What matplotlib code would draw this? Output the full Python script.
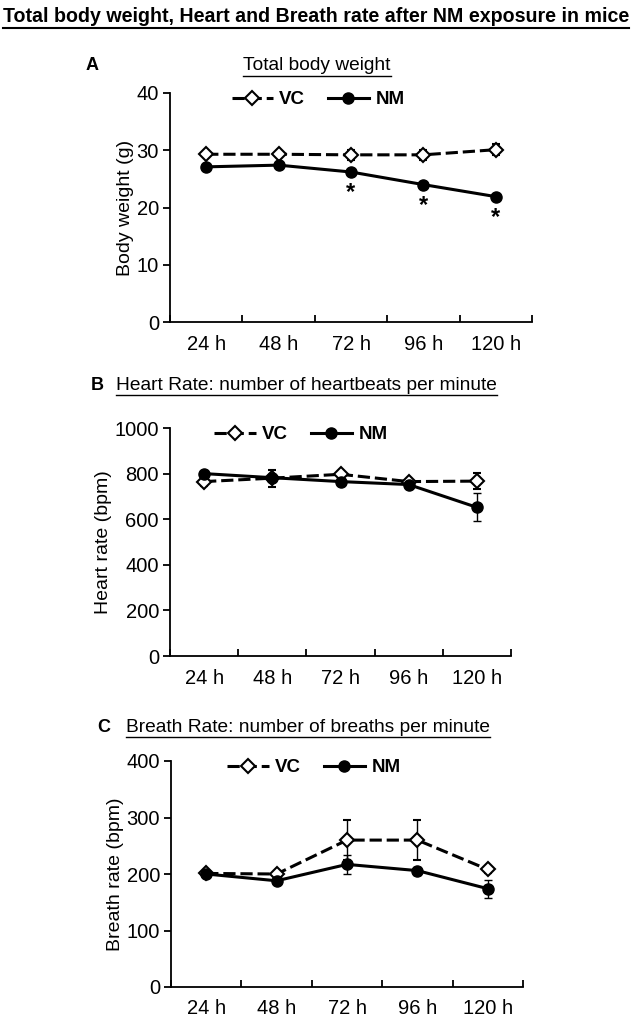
import matplotlib
matplotlib.use('Agg')
import matplotlib.pyplot as plt
import numpy as np
from matplotlib.lines import Line2D

plt.rcParams['font.family'] = ['Liberation Sans', 'DejaVu Sans']

times = ['24 h', '48 h', '72 h', '96 h', '120 h']

# A: body weight (g)
bw_vc = [29.3, 29.3, 29.2, 29.2, 30.1]
bw_vc_err = [0.5, 0.5, 0.9, 0.9, 1.0]
bw_nm = [27.1, 27.4, 26.2, 24.0, 21.9]
bw_nm_err = [0.3, 0.3, 0.4, 0.4, 0.4]
bw_star = [2, 3, 4]

# B: heart rate (bpm)
hr_vc = [765, 780, 797, 765, 767]
hr_vc_err = [20, 37, 12, 12, 36]
hr_nm = [800, 782, 765, 752, 652]
hr_nm_err = [10, 15, 10, 10, 62]

# C: breath rate (bpm)
br_vc = [201, 200, 260, 260, 208]
br_vc_err = [5, 5, 36, 36, 6]
br_nm = [200, 188, 217, 206, 174]
br_nm_err = [5, 5, 17, 7, 16]

W, H = 636, 1027
fig = plt.figure(figsize=(W / 100, H / 100), dpi=100)


def fx(px):
    return px / W


def fy(py):
    return 1 - py / H


def panel(rect, vc, vc_err, nm, nm_err, ymax, ystep, ylabel, leg_x):
    ax = fig.add_axes(rect)
    x = np.arange(len(times))
    ax.errorbar(x, vc, yerr=vc_err, color='black', lw=2.2, ls=(0, (4, 1.6)),
                marker='D', ms=7, mfc='white', mec='black', mew=1.5,
                elinewidth=1, capsize=3, capthick=1, label='VC', zorder=3)
    ax.errorbar(x, nm, yerr=nm_err, color='black', lw=2.2, ls='-',
                marker='o', ms=8, mfc='black', mec='black',
                elinewidth=1, capsize=3, capthick=1, label='NM', zorder=4)
    ax.set_xlim(-0.5, len(times) - 0.5)
    ax.set_ylim(0, ymax)
    ax.set_yticks(np.arange(0, ymax + 1, ystep))
    ax.set_xticks(np.arange(-0.5, len(times), 1))
    ax.set_xticklabels([])
    ax.set_xticks(x, minor=True)
    ax.set_xticklabels(times, minor=True)
    ax.tick_params(axis='x', which='minor', length=0, pad=9, labelsize=14.5)
    ax.tick_params(axis='x', which='major', length=5, width=1.3, direction='in')
    ax.tick_params(axis='y', length=5, width=1.3, direction='out', pad=3, labelsize=14.5)
    for s in ['top', 'right']:
        ax.spines[s].set_visible(False)
    for s in ['left', 'bottom']:
        ax.spines[s].set_linewidth(1.3)
    ax.set_ylabel(ylabel, fontsize=14, labelpad=2)
    handles, labels = ax.get_legend_handles_labels()
    handles = [h[0] for h in handles]
    ax.legend(handles, labels, loc='center left', bbox_to_anchor=(leg_x, 0.97),
              ncol=2, frameon=False, handlelength=2.2, handletextpad=0.35,
              columnspacing=1.2, borderpad=0, borderaxespad=0,
              prop={'weight': 'bold', 'size': 13.5})
    return ax


axA = panel([fx(170), fy(322), fx(362), fy(93) - fy(322)], bw_vc, bw_vc_err,
            bw_nm, bw_nm_err, 40, 10, 'Body weight (g)', 0.17)
for i in bw_star:
    axA.annotate('*', (i, bw_nm[i]), xytext=(0, -15), textcoords='offset points',
                 ha='center', va='center', fontsize=17, fontweight='bold')

axB = panel([fx(170), fy(656), fx(341), fy(428) - fy(656)], hr_vc, hr_vc_err,
            hr_nm, hr_nm_err, 1000, 200, 'Heart rate (bpm)', 0.13)

axC = panel([fx(171), fy(987), fx(352), fy(761) - fy(987)], br_vc, br_vc_err,
            br_nm, br_nm_err, 400, 100, 'Breath rate (bpm)', 0.16)

texts = []
t = fig.text(fx(316), fy(17), 'Total body weight, Heart and Breath rate after NM exposure in mice',
             ha='center', va='center', fontsize=14.1, fontweight='bold',
             family=['Liberation Sans Narrow', 'Liberation Sans'])
texts.append((t, 1.5))
texts.append((fig.text(fx(317), fy(66), 'Total body weight', ha='center', va='center', fontsize=13.8), 1.0))
texts.append((fig.text(fx(116), fy(385), 'Heart Rate: number of heartbeats per minute', ha='left', va='center', fontsize=13.8), 1.0))
texts.append((fig.text(fx(126), fy(727), 'Breath Rate: number of breaths per minute', ha='left', va='center', fontsize=13.8), 1.0))

fig.text(fx(86), fy(66), 'A', ha='left', va='center', fontsize=13, fontweight='bold')
fig.text(fx(91), fy(385), 'B', ha='left', va='center', fontsize=13, fontweight='bold')
fig.text(fx(97), fy(727), 'C', ha='left', va='center', fontsize=13, fontweight='bold')

# underline the titles
fig.canvas.draw()
r = fig.canvas.get_renderer()
for t, lw in texts:
    bb = t.get_window_extent(r)
    yline = bb.y0 - 1
    fig.add_artist(Line2D([bb.x0 / W, bb.x1 / W], [yline / H, yline / H],
                          color='black', lw=lw, transform=fig.transFigure))

fig.savefig('out.png', dpi=100)
